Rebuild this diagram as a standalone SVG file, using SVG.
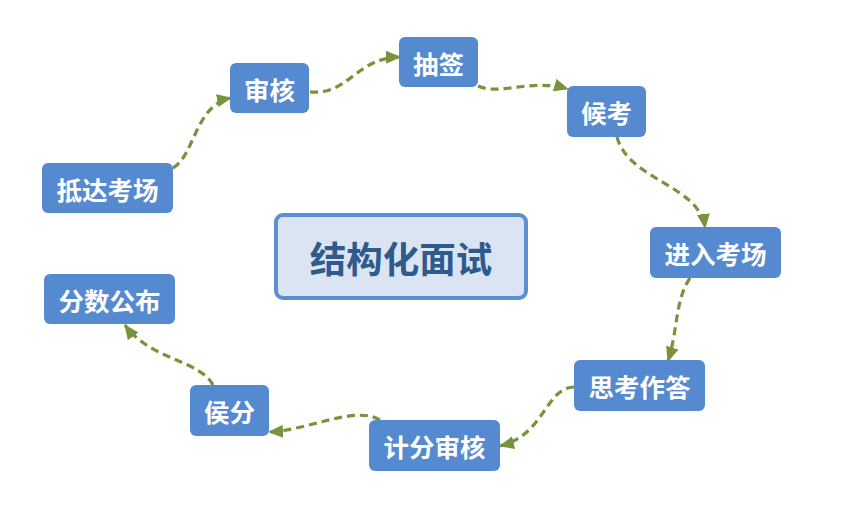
<svg xmlns="http://www.w3.org/2000/svg" width="850" height="513" viewBox="0 0 850 513">
<defs>
<style>
.node rect{fill:#558ad1;}
.node text{fill:#ffffff;font-family:"Noto Sans CJK SC","Noto Sans",sans-serif;font-weight:bold;font-size:25.5px;text-anchor:middle;dominant-baseline:central;}
.conn path{fill:none;stroke:#77933c;stroke-width:3.2;stroke-dasharray:8 5;marker-end:url(#arr);}
.title rect{fill:#dbe4f2;stroke:#5b8fd0;stroke-width:4;}
.title text{fill:#2e5a8c;font-family:"Noto Sans CJK SC","Noto Sans",sans-serif;font-weight:bold;font-size:36.5px;text-anchor:middle;dominant-baseline:central;}
</style>
<marker id="arr" markerUnits="userSpaceOnUse" markerWidth="15" markerHeight="13" refX="14" refY="6.5" orient="auto">
<path d="M0,0 L15,6.5 L0,13 Z" fill="#77933c"/>
</marker>
</defs>
<rect width="850" height="513" fill="#ffffff"/>
<g id="connectors" class="conn">
<path d="M173,168 C195,155 195,105 231,98"/>
<path d="M310,92 C350,95 355,58 400,57"/>
<path d="M478,86 C500,96 530,78 568,89"/>
<path d="M617,137 C628,180 700,185 705,228"/>
<path d="M690,278 C675,300 678,330 668,361"/>
<path d="M574,387 C545,388 545,435 500,446"/>
<path d="M380,420 C355,405 310,430 269,432"/>
<path d="M213,385 C200,360 150,360 125,325"/>
</g>
<g id="title" class="title">
<rect x="276" y="215" width="250" height="83" rx="7"/>
<text x="401" y="257">结构化面试</text>
</g>
<g id="n1" class="node"><rect x="42" y="163" width="131" height="50" rx="6"/><text x="107.5" y="188">抵达考场</text></g>
<g id="n2" class="node"><rect x="230" y="63" width="79" height="50" rx="6"/><text x="269.5" y="88">审核</text></g>
<g id="n3" class="node"><rect x="399" y="37" width="79" height="50" rx="6"/><text x="438.5" y="62">抽签</text></g>
<g id="n4" class="node"><rect x="567" y="86" width="79" height="51" rx="6"/><text x="606.5" y="111.5">候考</text></g>
<g id="n5" class="node"><rect x="650" y="227" width="131" height="51" rx="6"/><text x="715.5" y="252.5">进入考场</text></g>
<g id="n6" class="node"><rect x="574" y="360" width="131" height="51" rx="6"/><text x="639.5" y="385.5">思考作答</text></g>
<g id="n7" class="node"><rect x="369" y="420" width="131" height="51" rx="6"/><text x="434.5" y="445.5">计分审核</text></g>
<g id="n8" class="node"><rect x="190" y="385" width="79" height="51" rx="6"/><text x="229.5" y="410.5">侯分</text></g>
<g id="n9" class="node"><rect x="44" y="274" width="131" height="50" rx="6"/><text x="109.5" y="299">分数公布</text></g>
</svg>
